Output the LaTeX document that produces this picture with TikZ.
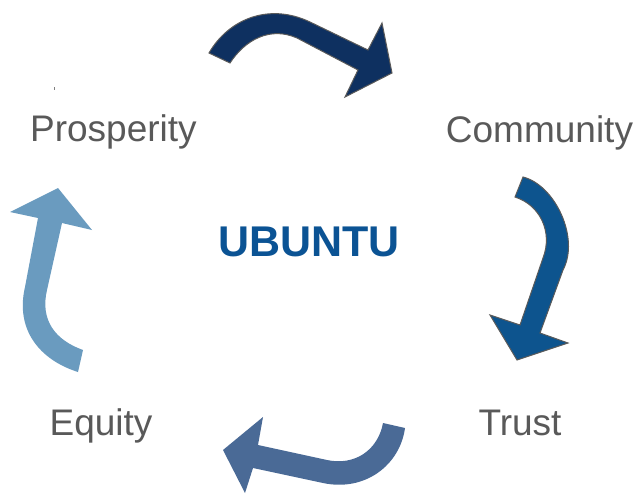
\documentclass[tikz,border=0pt]{standalone}
\usepackage{fontspec}
\setmainfont{Liberation Sans}
\definecolor{txtgray}{HTML}{595959}
\definecolor{arrA}{HTML}{0E3060}
\definecolor{arrB}{HTML}{0D548E}
\definecolor{arrC}{HTML}{4A6A96}
\definecolor{arrD}{HTML}{6A9BBF}
\definecolor{ubu}{HTML}{0B5394}
\definecolor{edgegray}{HTML}{5A5A5A}
\begin{document}
\begin{tikzpicture}[x=1pt,y=-1pt,
  lbl/.style={text=txtgray,font=\fontsize{37}{40}\selectfont,anchor=base,inner sep=0pt},
  outlined/.style={draw=edgegray,line width=1pt,line join=miter}]
\useasboundingbox (0,0) rectangle (636,495);
\fill[white] (0,0) rectangle (636,495);
% labels
\node[lbl] (prosperity) at (113.4,141.7) {Prosperity};
\node[lbl] (community) at (539.5,142.3) {Community};
\node[lbl] (equity) at (101,435) {Equity};
\node[lbl] (trust) at (520,435) {Trust};
\node[text=ubu,font=\fontsize{43}{46}\selectfont\bfseries,anchor=base,inner sep=0pt] (ubuntu) at (309,256.7) {UBUNTU};
% tiny artifact
\fill[gray] (54,87) rectangle (55,89.5);
% arrow 1: Prosperity -> Community
\path[fill=arrA,outlined] (209,53) .. controls (228,20) and (268,2) .. (310,22) -- (368,50) -- (382,23) -- (392,73) -- (345,97) -- (358,70) -- (297,38) .. controls (270,26) and (245,40) .. (230,63) -- cycle;
% arrow 2: Community -> Trust
\path[fill=arrB,outlined] (523,177) .. controls (555,185) and (580,238) .. (563,270) -- (540,333) -- (568,343) -- (517,360) -- (490,315) -- (520,325) -- (543,258) .. controls (553,232) and (540,205) .. (515,197) -- cycle;
% arrow 3: Trust -> Equity
\path[fill=arrC] (383,423) .. controls (378,450) and (355,466) .. (327,460) -- (258,445) -- (263,417) -- (223,450) -- (245,493) -- (253,468) -- (323,483) .. controls (365,492) and (400,465) .. (405,428) -- cycle;
% arrow 4: Equity -> Prosperity
\path[fill=arrD] (58,188) -- (92,230) -- (62,223) -- (47,290) .. controls (40,320) and (55,340) .. (83,350) -- (78,372) .. controls (40,360) and (15,330) .. (25,287) -- (38,218) -- (10,212) -- cycle;
\end{tikzpicture}
\end{document}
